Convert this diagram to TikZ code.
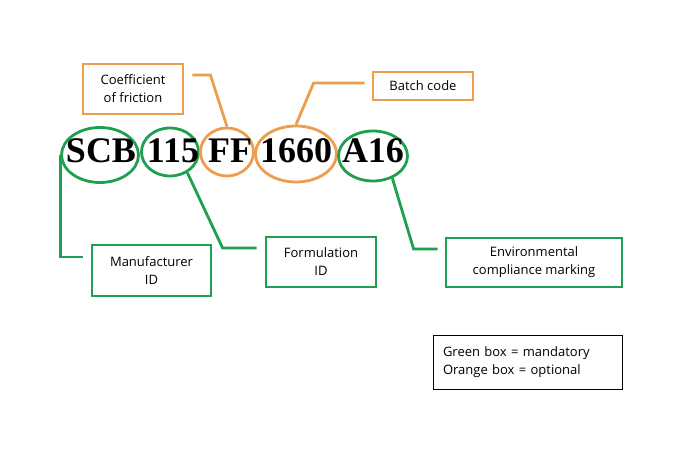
\documentclass[tikz,border=0pt]{standalone}
\usepackage{fontspec}
\setmainfont{Open Sans}
\newfontfamily\codefont{Liberation Serif}
\usetikzlibrary{shapes.geometric}
\definecolor{markgreen}{HTML}{1FA050}
\definecolor{markorange}{HTML}{EE9D4F}

\tikzset{
  code/.style={ellipse,draw,line width=2.8pt,inner sep=0pt},
  reqcode/.style={code,draw=markgreen},
  optcode/.style={code,draw=markorange},
  codetext/.style={inner sep=0pt,font=\codefont\fontsize{36}{40}\selectfont\bfseries},
  labelbox/.style={rectangle,draw,line width=2.8pt,align=center,font=\fontsize{13}{18}\selectfont,inner sep=0pt},
  reqbox/.style={labelbox,draw=markgreen},
  optbox/.style={labelbox,draw=markorange},
  reqline/.style={draw=markgreen,line width=2.8pt},
  optline/.style={draw=markorange,line width=2.8pt}
}

\begin{document}
\begin{tikzpicture}[x=1pt,y=-1pt]
\useasboundingbox (0,0) rectangle (685,454);
% code fields
\node[reqcode,minimum width=77pt,minimum height=55pt] (scb) at (100,155) {};
\node[reqcode,minimum width=57pt,minimum height=48pt] (n115) at (170,152) {};
\node[optcode,minimum width=53pt,minimum height=48pt] (ff) at (227,152) {};
\node[optcode,minimum width=81pt,minimum height=56pt] (n1660) at (296,154) {};
\node[reqcode,minimum width=69pt,minimum height=50pt] (a16) at (373,156) {};
\node[codetext] (scbtext) at (101,151) {SCB};
\node[codetext] (n115text) at (173,151) {115};
\node[codetext] (fftext) at (230,151) {FF};
\node[codetext] (n1660text) at (296,151) {1660};
\node[codetext] (a16text) at (373,151) {A16};
% labels
\node[optbox,minimum width=100pt,minimum height=50pt] (coef) at (133,89) {Coefficient\\of friction};
\node[optbox,minimum width=100pt,minimum height=28pt] (batch) at (423,86) {Batch code};
\node[reqbox,minimum width=119pt,minimum height=51pt] (man) at (151.5,270.5) {Manufacturer\\ID};
\node[reqbox,minimum width=110pt,minimum height=50pt] (form) at (321,262) {Formulation\\ID};
\node[reqbox,minimum width=176pt,minimum height=49pt] (env) at (534,262.5) {Environmental\\compliance marking};
\node[draw=black,line width=1.2pt,minimum width=189pt,minimum height=54pt,align=left,inner sep=0pt,text width=170pt,font=\fontsize{13}{18}\selectfont] (key) at (528,362.5) {Green box = mandatory\\Orange box = optional};
% leaders
\draw[optline] ([xshift=8pt,yshift=14pt]coef.east) -- ++(18,0) -- (ff.north);
\draw[optline] ([xshift=-7pt,yshift=3pt]batch.west) -- ++(-51,0) -- (n1660.north);
\draw[reqline] (scb.west) |- ([xshift=-8pt,yshift=13.5pt]man.west);
\draw[reqline] (n115.-50) -- ([xshift=-42pt,yshift=14pt]form.west) -- ([xshift=-8pt,yshift=14pt]form.west);
\draw[reqline] (a16.-49) -- ([xshift=-31pt,yshift=13.5pt]env.west) -- ([xshift=-7pt,yshift=13.5pt]env.west);
\end{tikzpicture}
\end{document}
